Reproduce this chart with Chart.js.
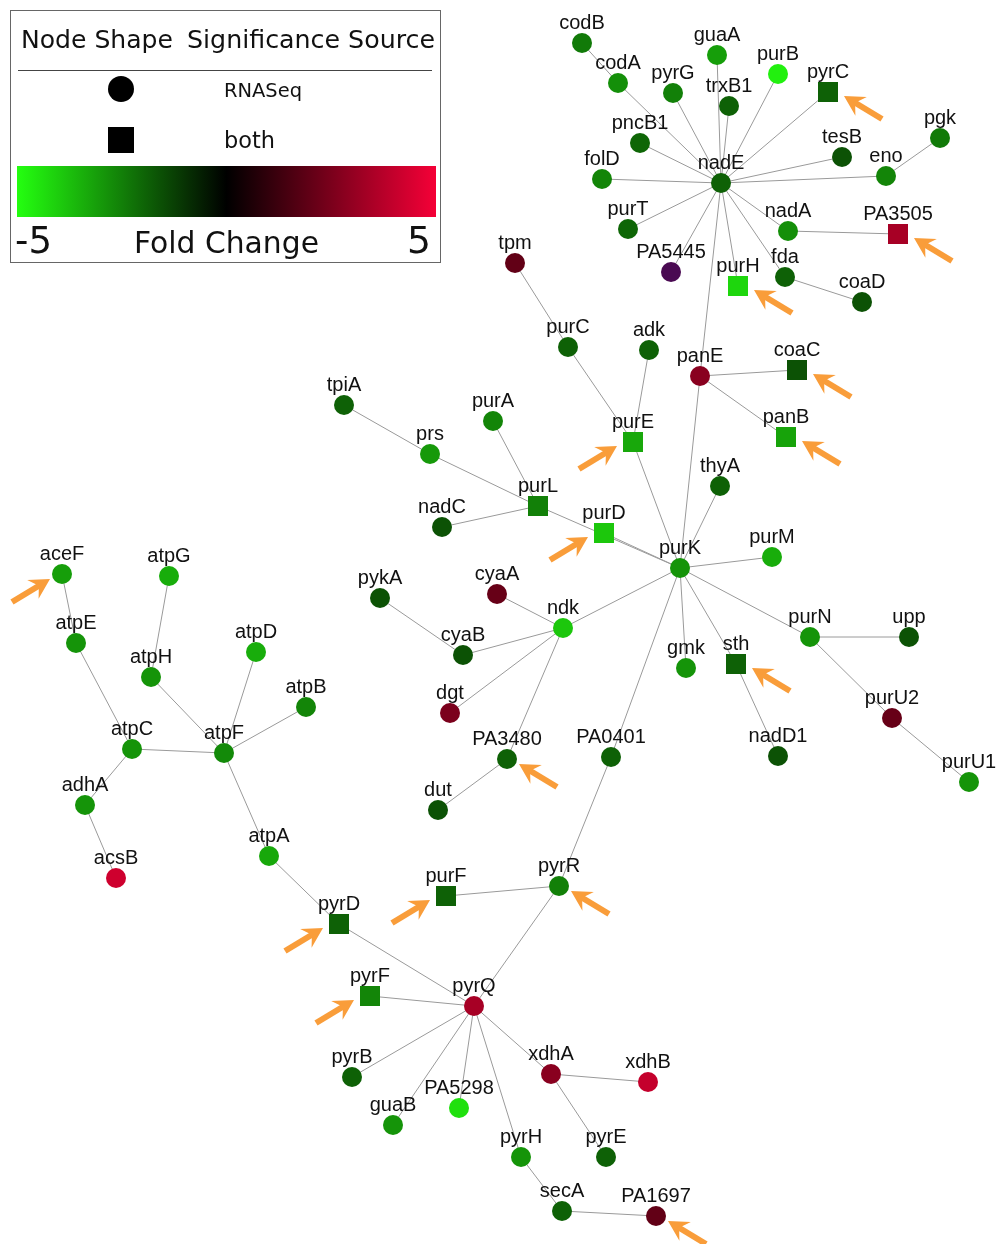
<!DOCTYPE html>
<html>
<head>
<meta charset="utf-8">
<script src="https://cdn.jsdelivr.net/npm/chart.js@4/dist/chart.umd.min.js"></script>
<style>
  html, body { margin: 0; padding: 0; background: #ffffff; }
  #wrap { width: 997px; height: 1244px; }
</style>
</head>
<body>
<div id="wrap"><canvas id="c" width="997" height="1244"></canvas></div>
<script>
// ---------------- DATA ----------------
const nodeNames = ['codB','codA','guaA','purB','pyrG','trxB1','pyrC','pncB1','tesB','pgk','eno','folD','nadE','purT','nadA','PA3505','fda','coaD','PA5445','purH',
  'tpm','purC','adk','tpiA','purA','prs','purE','purL','nadC','purD',
  'panE','coaC','panB','thyA','purK','purM','purN','upp','gmk','sth','purU2','nadD1','purU1',
  'pykA','cyaA','ndk','cyaB','dgt','PA3480','PA0401','dut',
  'aceF','atpG','atpE','atpD','atpH','atpB','atpC','atpF','adhA','acsB','atpA',
  'pyrD','purF','pyrF','pyrQ','pyrB','guaB','PA5298',
  'pyrR','xdhA','xdhB','pyrH','pyrE','secA','PA1697'];
const nodeX = [582,618,717,778,673,729,828,640,842,940,886,602,721,628,788,898,785,862,671,738,
  515,568,649,344,493,430,633,538,442,604,
  700,797,786,720,680,772,810,909,686,736,892,778,969,
  380,497,563,463,450,507,611,438,
  62,169,76,256,151,306,132,224,85,116,269,
  339,446,370,474,352,393,459,
  559,551,648,521,606,562,656];
const nodeY = [43,83,55,74,93,106,92,143,157,138,176,179,183,229,231,234,277,302,272,286,
  263,347,350,405,421,454,442,506,527,533,
  376,370,437,486,568,557,637,637,668,664,718,756,782,
  598,594,628,655,713,759,757,810,
  574,576,643,652,677,707,749,753,805,878,856,
  924,896,996,1006,1077,1125,1108,
  886,1074,1082,1157,1157,1211,1216];
// log fold change (-5 .. 5), null = not on the scale
const foldChange = [-2.4,-2.8,-3.1,-4.7,-2.5,-1.9,-1.9,-2.0,-1.6,-2.4,-2.6,-2.6,-1.9,-2.0,-2.8,3.4,-1.9,-1.6,null,-4.2,
  2.0,-1.9,-1.9,-1.9,-2.6,-3.0,-3.3,-2.5,-1.6,-3.9,
  2.8,-1.6,-3.2,-1.9,-2.9,-3.4,-2.9,-1.6,-2.9,-1.9,2.1,-1.6,-2.9,
  -1.6,2.1,-3.9,-1.6,2.5,-1.9,-1.9,-1.6,
  -3.1,-3.4,-2.9,-3.4,-2.9,-2.6,-2.9,-2.7,-2.9,4.2,-3.3,
  -1.9,-1.9,-2.6,3.4,-1.9,-2.9,-4.4,
  -2.5,2.8,4.0,-2.9,-1.9,-1.9,2.0];
const bothSources = ['pyrC','PA3505','purH','purE','purL','purD','coaC','panB','sth','pyrD','purF','pyrF'];
const edgeFrom = ['codB','codA','guaA','purB','pyrG','trxB1','pyrC','pncB1','tesB','eno','folD','purT','nadA','fda','PA5445','purH','panE',
  'eno','nadA','fda',
  'panE','panE','panE',
  'tpm','purC','adk','purE',
  'tpiA','prs','purA','nadC','purL','purD',
  'thyA','purM','purN','gmk','sth','ndk','PA0401',
  'purN','purN','purU2','sth',
  'cyaA','pykA','cyaB','dgt','PA3480','PA3480',
  'PA0401','pyrR','pyrR',
  'pyrQ','pyrQ','pyrQ','pyrQ','pyrQ','pyrQ','pyrQ',
  'xdhA','xdhA','pyrH','secA',
  'pyrD','atpA','atpF','atpF','atpF','atpF','atpH','atpC','atpE','atpC','adhA'];
const edgeTo = ['codA','nadE','nadE','nadE','nadE','nadE','nadE','nadE','nadE','nadE','nadE','nadE','nadE','nadE','nadE','nadE','nadE',
  'pgk','PA3505','coaD',
  'coaC','panB','purK',
  'purC','purE','purE','purK',
  'prs','purL','purL','purL','purK','purK',
  'purK','purK','purK','purK','purK','purK','purK',
  'upp','purU2','purU1','nadD1',
  'ndk','cyaB','ndk','ndk','ndk','dut',
  'pyrR','purF','pyrQ',
  'pyrD','pyrF','pyrB','guaB','PA5298','pyrH','xdhA',
  'xdhB','pyrE','secA','PA1697',
  'atpA','atpF','atpD','atpB','atpH','atpC','atpG','atpE','aceF','adhA','acsB'];
const arrowNodes = ['pyrC','PA3505','purH','coaC','panB','sth','PA3480','pyrR','PA1697',
  'purE','purD','aceF','purF','pyrD','pyrF'];
const arrowFrom = ['lowerRight','lowerRight','lowerRight','lowerRight','lowerRight','lowerRight','lowerRight','lowerRight','lowerRight',
  'lowerLeft','lowerLeft','lowerLeft','lowerLeft','lowerLeft','lowerLeft'];
const scaleMin = -5, scaleMax = 5;

// ---------------- STYLE ----------------
const GREEN = [36, 255, 16];
const RED = [245, 0, 55];
const specialColors = { PA5445: '#4a0a52' };
function foldColor(v) {
  const t = Math.max(-1, Math.min(1, v / scaleMax));
  const c = t < 0 ? GREEN : RED;
  const a = Math.abs(t);
  return 'rgb(' + Math.round(c[0] * a) + ',' + Math.round(c[1] * a) + ',' + Math.round(c[2] * a) + ')';
}
const idx = {};
nodeNames.forEach((n, i) => idx[n] = i);

const edgeDatasets = edgeFrom.map((f, i) => ({
  type: 'scatter',
  data: [{x: nodeX[idx[f]], y: nodeY[idx[f]]}, {x: nodeX[idx[edgeTo[i]]], y: nodeY[idx[edgeTo[i]]]}],
  showLine: true,
  borderColor: '#9a9a9a',
  borderWidth: 1,
  pointRadius: 0,
  order: 10
}));

function nodeDataset(isBoth) {
  const pts = [], cols = [];
  nodeNames.forEach((n, i) => {
    if (bothSources.includes(n) === isBoth) {
      pts.push({x: nodeX[i], y: nodeY[i], name: n});
      cols.push(specialColors[n] || foldColor(foldChange[i]));
    }
  });
  return {
    type: 'scatter',
    data: pts,
    pointStyle: isBoth ? 'rect' : 'circle',
    pointRadius: isBoth ? 14.14 : 10,
    pointBackgroundColor: cols,
    pointBorderColor: cols,
    pointBorderWidth: 0,
    order: 1
  };
}

const labelPlugin = {
  id: 'labels',
  afterDatasetsDraw(chart) {
    const {ctx, scales: {x, y}} = chart;
    // arrows
    ctx.save();
    ctx.fillStyle = '#f99d3a';
    ctx.strokeStyle = '#f99d3a';
    arrowNodes.forEach((n, k) => {
      const i = idx[n];
      const px = x.getPixelForValue(nodeX[i]);
      const py = y.getPixelForValue(nodeY[i]);
      const s = arrowFrom[k] === 'lowerRight' ? 1 : -1;
      const sq = bothSources.includes(n);
      const tipX = px + s * (sq ? 16 : 12);
      const tipY = py + (sq ? 4 : 5);
      const tailX = tipX + s * 38, tailY = tipY + 23;
      const L = Math.hypot(tailX - tipX, tailY - tipY);
      const ux = (tailX - tipX) / L, uy = (tailY - tipY) / L; // towards tail
      const vx = -uy, vy = ux;
      const headL = 20, headW = 11, notch = 13;
      ctx.beginPath();
      ctx.moveTo(tipX, tipY);
      ctx.lineTo(tipX + ux * headL + vx * headW, tipY + uy * headL + vy * headW);
      ctx.lineTo(tipX + ux * notch, tipY + uy * notch);
      ctx.lineTo(tipX + ux * headL - vx * headW, tipY + uy * headL - vy * headW);
      ctx.closePath();
      ctx.fill();
      ctx.lineWidth = 6;
      ctx.lineCap = 'butt';
      ctx.beginPath();
      ctx.moveTo(tipX + ux * (notch - 1), tipY + uy * (notch - 1));
      ctx.lineTo(tailX, tailY);
      ctx.stroke();
    });
    ctx.restore();
    // node labels
    ctx.save();
    ctx.font = '20px "Liberation Sans", Arial, sans-serif';
    ctx.fillStyle = '#111111';
    ctx.textAlign = 'center';
    ctx.textBaseline = 'alphabetic';
    nodeNames.forEach((n, i) => {
      const px = x.getPixelForValue(nodeX[i]);
      const py = y.getPixelForValue(nodeY[i]);
      ctx.fillText(n, px, py - 14);
    });
    ctx.restore();
  }
};

function fitText(ctx, text, x, y, width, family, align) {
  ctx.font = '100px ' + family;
  const w = ctx.measureText(text).width;
  const size = 100 * width / w;
  ctx.font = size.toFixed(2) + 'px ' + family;
  ctx.textAlign = align || 'left';
  ctx.textBaseline = 'alphabetic';
  ctx.fillText(text, x, y);
}

const legendPlugin = {
  id: 'fcLegend',
  afterDraw(chart) {
    const ctx = chart.ctx;
    const fam = '"DejaVu Sans", Verdana, sans-serif';
    ctx.save();
    ctx.fillStyle = '#ffffff';
    ctx.fillRect(10.5, 10.5, 430, 252);
    ctx.strokeStyle = '#666666';
    ctx.lineWidth = 1;
    ctx.strokeRect(10.5, 10.5, 430, 252);
    ctx.fillStyle = '#111111';
    fitText(ctx, 'Node Shape', 21, 48, 152, fam, 'left');
    fitText(ctx, 'Significance Source', 187, 48, 248, fam, 'left');
    ctx.strokeStyle = '#444444';
    ctx.beginPath();
    ctx.moveTo(18, 70.5);
    ctx.lineTo(432, 70.5);
    ctx.stroke();
    ctx.fillStyle = '#000000';
    ctx.beginPath();
    ctx.arc(121, 89, 13, 0, Math.PI * 2);
    ctx.fill();
    ctx.fillRect(108, 127, 26, 26);
    ctx.fillStyle = '#111111';
    fitText(ctx, 'RNASeq', 224, 97, 78, fam, 'left');
    fitText(ctx, 'both', 224, 148, 51, fam, 'left');
    const g = ctx.createLinearGradient(17, 0, 436, 0);
    g.addColorStop(0, 'rgb(' + GREEN.join(',') + ')');
    g.addColorStop(0.5, '#000000');
    g.addColorStop(1, 'rgb(' + RED.join(',') + ')');
    ctx.fillStyle = g;
    ctx.fillRect(17, 166, 419, 51);
    ctx.fillStyle = '#111111';
    fitText(ctx, String(scaleMin), 15, 253, 37, fam, 'left');
    fitText(ctx, 'Fold Change', 134, 253, 185, fam, 'left');
    fitText(ctx, String(scaleMax), 431, 253, 24, fam, 'right');
    ctx.restore();
  }
};

new Chart(document.getElementById('c'), {
  type: 'scatter',
  data: { datasets: [...edgeDatasets, nodeDataset(false), nodeDataset(true)] },
  options: {
    responsive: false,
    animation: false,
    events: [],
    clip: false,
    layout: { padding: 0, autoPadding: false },
    plugins: { legend: { display: false }, tooltip: { enabled: false } },
    scales: {
      x: { type: 'linear', min: 0, max: 997, display: false },
      y: { type: 'linear', min: 0, max: 1244, reverse: true, display: false }
    }
  },
  plugins: [labelPlugin, legendPlugin]
});
</script>
</body>
</html>
